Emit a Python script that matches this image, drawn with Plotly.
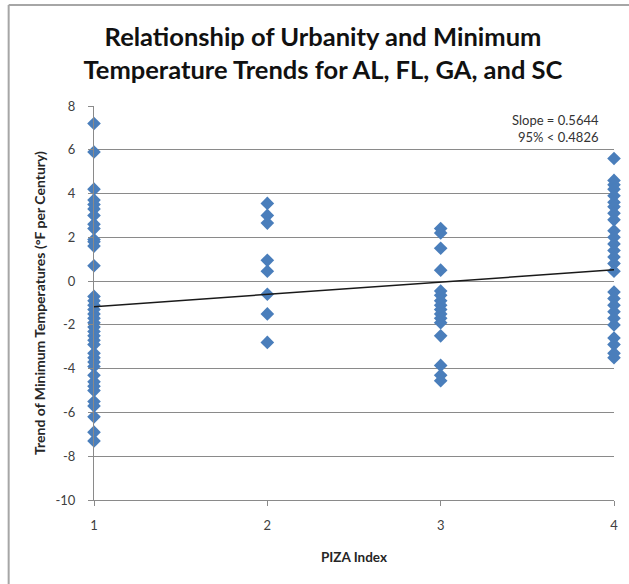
import plotly.graph_objects as go

# ---- data ----
piza_1 = [7.2, 5.9, 4.2, 3.7, 3.5, 3.3, 3.0, 2.6, 2.4, 1.9, 1.8, 1.6, 0.7,
          -0.7, -0.9, -1.1, -1.3, -1.5, -1.7, -1.9, -2.1, -2.3, -2.5, -2.7, -2.9,
          -3.3, -3.5, -3.7, -3.9, -4.3, -4.6, -4.8, -5.0, -5.5, -5.7, -6.2, -6.9, -7.3]
piza_2 = [3.55, 3.0, 2.65, 0.95, 0.45, -0.6, -1.5, -2.8]
piza_3 = [2.4, 2.2, 1.5, 0.5, -0.45, -0.65, -0.9, -1.1, -1.3, -1.5, -1.7, -1.9,
          -2.5, -3.85, -4.3, -4.55]
piza_4 = [5.6, 4.6, 4.4, 4.2, 3.9, 3.6, 3.4, 3.1, 2.8, 2.3, 2.0, 1.7, 1.4, 1.1, 0.8,
          0.45, -0.5, -0.8, -1.1, -1.4, -1.7, -2.0, -2.6, -2.9, -3.3, -3.5]

trend_x = [1, 4]
trend_y = [-1.17, 0.52]

y_ticks = [-10, -8, -6, -4, -2, 0, 2, 4, 6, 8]
y_tick_labels = ["-10", "-8", "-6", "-4", "-2", "0", "2", "4", "6", "8"]
x_ticks = [1, 2, 3, 4]
x_tick_labels = ["1", "2", "3", "4"]

title_text = "Relationship of Urbanity and Minimum<br>Temperature Trends for AL, FL, GA, and SC"
stat_text = "Slope = 0.5644<br>95% < 0.4826"

xs, ys = [], []
for xv, col in zip(x_ticks, [piza_1, piza_2, piza_3, piza_4]):
    xs += [xv] * len(col)
    ys += col

W, H = 629, 584
L, R, T, B = 94, 11, 106, 84
pw, ph = W - L - R, H - T - B

def px(p):
    return (p - L) / pw

def py(p):
    return (H - B - p) / ph

FONT = "Lato, Open Sans, sans-serif"
GRID = "#8a8a8a"

fig = go.Figure()
fig.add_trace(go.Scatter(
    x=xs, y=ys, mode="markers",
    marker=dict(symbol="diamond", size=10.5, color="#4a7ebb", line=dict(width=0)),
    cliponaxis=False, showlegend=False, hoverinfo="x+y"))
fig.add_trace(go.Scatter(
    x=trend_x, y=trend_y, mode="lines",
    line=dict(color="#1a1a1a", width=1.5), showlegend=False, hoverinfo="skip"))

fig.update_layout(
    width=W, height=H,
    margin=dict(l=L, r=R, t=T, b=B),
    paper_bgcolor="white", plot_bgcolor="white",
    font=dict(family=FONT, color="#404040", size=13),
    title=dict(text=title_text, x=323 / W, xanchor="center", y=1 - 46 / H, yanchor="middle",
               font=dict(family=FONT, size=25.5, color="#111111", weight="bold")),
    xaxis=dict(range=[1, 4], tickvals=x_ticks, ticktext=x_tick_labels, showgrid=False,
               zeroline=False, showline=True, linecolor=GRID, linewidth=1,
               ticks="outside", ticklen=5, tickcolor=GRID, ticklabelstandoff=8,
               tickfont=dict(size=13, color="#404040"),
               title=dict(text="<b>PIZA Index</b>", standoff=20,
                          font=dict(size=13.5, color="#262626"))),
    yaxis=dict(range=[-10, 8], tickvals=y_ticks, ticktext=y_tick_labels, showgrid=True,
               gridcolor=GRID, gridwidth=1, zeroline=False, showline=True, linecolor=GRID,
               ticks="outside", ticklen=5, tickcolor=GRID, ticklabelstandoff=10,
               tickfont=dict(size=13, color="#404040"),
               title=dict(text="<b>Trend of Minimum Temperatures (°F per Century)</b>",
                          standoff=6, font=dict(size=14, color="#262626"))),
    annotations=[dict(text=stat_text, xref="paper", yref="paper",
                      x=px(605), y=py(110), xanchor="right", yanchor="top",
                      align="right", showarrow=False,
                      font=dict(size=13, color="#333333"))],
    shapes=[
        dict(type="line", xref="paper", yref="paper",
             x0=px(8), x1=px(8), y0=py(5), y1=py(700),
             line=dict(color="#a6a6a6", width=2), layer="below"),
        dict(type="line", xref="paper", yref="paper",
             x0=px(8), x1=px(700), y0=py(5), y1=py(5),
             line=dict(color="#a6a6a6", width=2), layer="below"),
    ],
)

fig.write_html("out.html")
